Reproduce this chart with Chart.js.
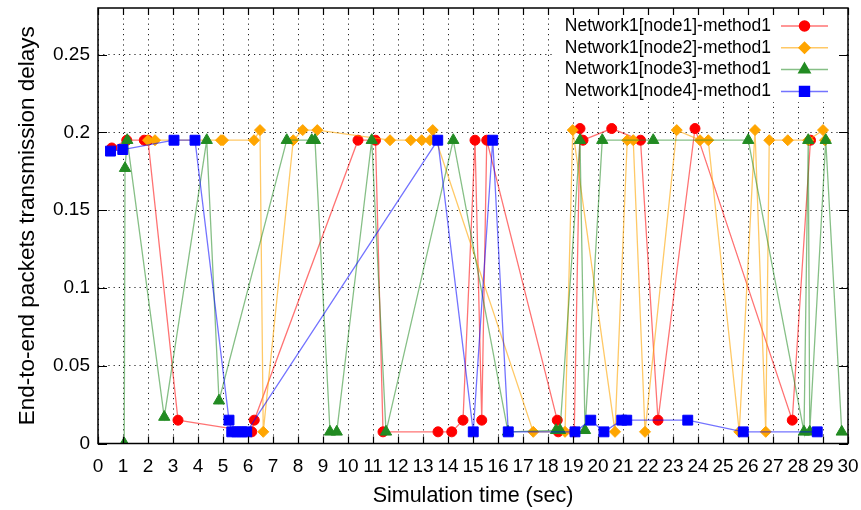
<!DOCTYPE html>
<html>
<head>
<meta charset="utf-8">
<script src="https://cdn.jsdelivr.net/npm/chart.js@4.4.1/dist/chart.umd.min.js"></script>
<style>
  html, body { margin: 0; padding: 0; background: #fff; }
  #wrap { width: 861px; height: 510px; }
</style>
</head>
<body>
<div id="wrap"><canvas id="chart" width="861" height="510"></canvas></div>
<script>
// values (time in sec, delay)
const node1X = [0.55, 1.15, 1.85, 2.0, 3.2, 6.15, 6.25, 10.4, 11.1, 11.4, 13.6, 14.15, 14.6, 15.08, 15.35, 15.55, 18.37, 18.41, 19.05, 19.28, 19.4, 20.55, 21.7, 22.4, 23.88, 27.77, 28.5];
const node1Y = [0.19, 0.195, 0.195, 0.195, 0.015, 0.0075, 0.015, 0.195, 0.195, 0.0075, 0.0075, 0.0075, 0.015, 0.195, 0.015, 0.195, 0.015, 0.0075, 0.0075, 0.2025, 0.195, 0.2025, 0.195, 0.015, 0.2025, 0.015, 0.195];

const node2X = [2.0, 2.28, 4.92, 5.0, 6.24, 6.48, 6.61, 7.81, 8.19, 8.77, 11.68, 12.51, 12.95, 13.28, 13.39, 17.41, 18.68, 18.99, 20.68, 21.17, 21.41, 21.88, 23.15, 24.08, 24.41, 25.65, 26.28, 26.71, 26.85, 27.59, 28.41, 29.0, 29.08];
const node2Y = [0.195, 0.195, 0.195, 0.195, 0.195, 0.2015, 0.0075, 0.195, 0.2015, 0.2015, 0.195, 0.195, 0.195, 0.195, 0.2015, 0.0075, 0.0075, 0.2015, 0.0075, 0.195, 0.195, 0.0075, 0.2015, 0.195, 0.195, 0.0075, 0.2015, 0.0075, 0.195, 0.195, 0.195, 0.2015, 0.195];

const node3X = [1.05, 1.08, 1.17, 2.65, 4.35, 4.84, 7.55, 8.55, 8.68, 9.28, 9.55, 10.95, 11.52, 14.21, 16.4, 18.32, 18.48, 19.28, 19.48, 20.17, 22.21, 26.01, 28.24, 28.41, 28.47, 29.11, 29.75];
const node3Y = [0, 0.177, 0.195, 0.017, 0.195, 0.0275, 0.195, 0.195, 0.195, 0.0075, 0.0075, 0.195, 0.0075, 0.195, 0.0075, 0.0085, 0.0085, 0.195, 0.0085, 0.195, 0.195, 0.195, 0.0075, 0.195, 0.0075, 0.195, 0.0075];

const node4X = [0.5, 0.99, 3.04, 3.88, 5.24, 5.35, 5.55, 5.75, 5.95, 13.59, 15.01, 15.79, 16.41, 19.08, 19.71, 20.24, 20.95, 21.15, 23.59, 25.81, 28.77];
const node4Y = [0.188, 0.189, 0.195, 0.195, 0.015, 0.0075, 0.0075, 0.0075, 0.0075, 0.195, 0.0075, 0.195, 0.0075, 0.0075, 0.015, 0.0075, 0.015, 0.015, 0.015, 0.0075, 0.0075];

const seriesNames = ["Network1[node1]-method1", "Network1[node2]-method1", "Network1[node3]-method1", "Network1[node4]-method1"];
const xTicks = [0, 1, 2, 3, 4, 5, 6, 7, 8, 9, 10, 11, 12, 13, 14, 15, 16, 17, 18, 19, 20, 21, 22, 23, 24, 25, 26, 27, 28, 29, 30];
const yTicks = [0, 0.05, 0.1, 0.15, 0.2, 0.25];
const yTickLabels = ["0", "0.05", "0.1", "0.15", "0.2", "0.25"];

const FONT = '"Liberation Sans", Arial, sans-serif';

function pairs(xs, ys) {
  return xs.map((x, i) => ({ x, y: ys[i] }));
}

const styles = [
  { color: "#ff0000", line: "rgba(255,0,0,0.55)", point: "circle", radius: 5 },
  { color: "#ffa500", line: "rgba(255,165,0,0.6)", point: "rectRot", radius: 5.5 },
  { color: "#228b22", line: "rgba(34,139,34,0.55)", point: "triangle", radius: 6.5 },
  { color: "#0000ff", line: "rgba(0,0,255,0.55)", point: "rect", radius: 7 },
];
const allData = [pairs(node1X, node1Y), pairs(node2X, node2Y), pairs(node3X, node3Y), pairs(node4X, node4Y)];

const datasets = allData.map((d, i) => ({
  label: seriesNames[i],
  data: d,
  showLine: true,
  borderColor: styles[i].line,
  borderWidth: 1.3,
  pointStyle: styles[i].point,
  pointRadius: styles[i].radius,
  pointBackgroundColor: styles[i].color,
  pointBorderColor: styles[i].color,
  pointBorderWidth: 1,
  order: 3 - i, // later series on top, like gnuplot
}));

// gnuplot-like frame, inward ticks and opaque key
const framePlugin = {
  id: "frame",
  afterDatasetsDraw(chart) {
    const { ctx, chartArea: a, scales: { x, y } } = chart;
    ctx.save();
    // key
    ctx.fillStyle = "#fff";
    ctx.fillRect(553, 14, 293, 88);
    ctx.font = "17.5px " + FONT;
    ctx.textAlign = "right";
    ctx.textBaseline = "middle";
    seriesNames.forEach((name, i) => {
      const ly = 26 + i * 21.8;
      ctx.fillStyle = "#000";
      ctx.fillText(name, 771, ly);
      ctx.strokeStyle = styles[i].line;
      ctx.lineWidth = 1.5;
      ctx.beginPath();
      ctx.moveTo(781, ly);
      ctx.lineTo(828, ly);
      ctx.stroke();
      ctx.fillStyle = styles[i].color;
      ctx.strokeStyle = styles[i].color;
      Chart.helpers.drawPoint(ctx, { pointStyle: styles[i].point, radius: styles[i].radius, borderWidth: 1 }, 804.5, ly);
    });
    // border
    ctx.strokeStyle = "#000";
    ctx.lineWidth = 1.5;
    ctx.strokeRect(a.left, a.top, a.right - a.left, a.bottom - a.top);
    // ticks
    ctx.lineWidth = 1.2;
    ctx.beginPath();
    x.ticks.forEach((t) => {
      const px = Math.round(x.getPixelForValue(t.value)) + 0.5;
      ctx.moveTo(px, a.bottom); ctx.lineTo(px, a.bottom - 7);
      ctx.moveTo(px, a.top); ctx.lineTo(px, a.top + 7);
    });
    y.ticks.forEach((t) => {
      const py = Math.round(y.getPixelForValue(t.value)) + 0.5;
      ctx.moveTo(a.left, py); ctx.lineTo(a.left + 9, py);
      ctx.moveTo(a.right, py); ctx.lineTo(a.right - 9, py);
    });
    ctx.stroke();
    ctx.restore();
  },
};

new Chart(document.getElementById("chart"), {
  type: "scatter",
  data: { datasets },
  plugins: [framePlugin],
  options: {
    responsive: false,
    animation: false,
    layout: { padding: { left: 0, right: 13, top: 8, bottom: 0 } },
    plugins: { legend: { display: false }, tooltip: { enabled: false } },
    scales: {
      x: {
        type: "linear",
        min: 0,
        max: 30,
        afterBuildTicks: (s) => { s.ticks = xTicks.map((v) => ({ value: v })); },
        afterFit: (s) => { s.height = 66.5; s.paddingLeft = 0; s.paddingRight = 0; },
        ticks: { color: "#000", font: { family: FONT, size: 19 }, padding: 12, autoSkip: false, maxRotation: 0, callback: (v) => String(v) },
        grid: { color: "#222", lineWidth: 1, drawTicks: false },
        border: { display: false, dash: [1.2, 4] },
        title: { display: true, text: "Simulation time (sec)", color: "#000", font: { family: FONT, size: 21.5 }, padding: { top: 0, bottom: 1 } },
      },
      y: {
        type: "linear",
        min: 0,
        max: 0.28,
        afterBuildTicks: (s) => { s.ticks = yTicks.map((v) => ({ value: v })); },
        afterFit: (s) => { s.width = 98; s.paddingTop = 0; s.paddingBottom = 0; },
        ticks: { color: "#000", font: { family: FONT, size: 19 }, padding: 8, callback: (v, i) => yTickLabels[i] },
        grid: { color: "#222", lineWidth: 1, drawTicks: false },
        border: { display: false, dash: [1.2, 4] },
        title: { display: true, text: "End-to-end packets transmission delays", color: "#000", font: { family: FONT, size: 22.5 }, padding: { top: 14, bottom: 0 } },
      },
    },
  },
});
</script>
</body>
</html>
